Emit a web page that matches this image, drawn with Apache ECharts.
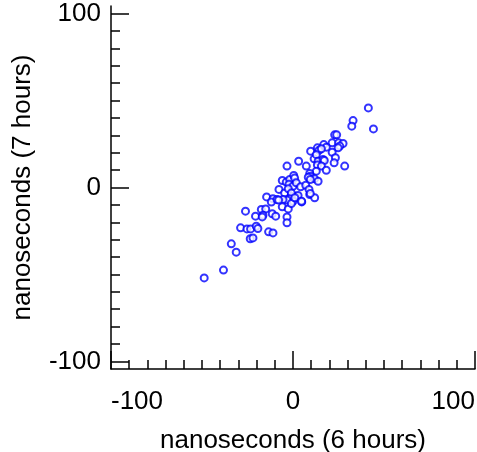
<!DOCTYPE html>
<html>
<head>
<meta charset="utf-8">
<script src="https://cdn.jsdelivr.net/npm/echarts@6/dist/echarts.min.js"></script>
<style>
  html, body { margin: 0; padding: 0; background: #fff; }
  #chart { width: 477px; height: 452px; }
</style>
</head>
<body>
<div id="chart"></div>
<script>
// values (nanoseconds)
var xVals = [
  33.0, 32.3, 22.9, 24.0, 21.5, 25.1, 27.5, 25.7, 24.8, 21.5, 23.3, 22.6, 28.4,
  9.7, 13.4, 14.3, 16.9, 18.3, 15.6, 11.6, 12.8, 13.8, 16.5, 17.2, 13.4, 15.6,
  18.3, 12.8, 3.1, 7.3, -3.3, 9.2, 9.5, 8.4, 11.9, 13.8, 9.5, -5.9, -3.7, -1.8,
  0.4, 0.9, -2.2, 0.0, 1.8, 4.2, 7.0, -7.7, -4.6, -2.6, -0.9, 1.5, 2.8, 4.8,
  9.2, 8.8, 11.9, 9.5, -0.9, -1.8, 0.0, -3.3, -5.5, -5.9, -2.6, -14.5, -11.0,
  -11.9, -8.8, -7.9, -0.9, -26.1, -17.4, -15.0, -20.6, -16.5, -16.9, -11.4,
  -9.5, -3.3, -3.3, -28.8, -25.3, -23.3, -20.2, -19.3, -13.4, -11.0, -23.5,
  -22.0, -33.9, -31.2, -38.2, -48.8, 41.4, 44.2, 1.0, 4.7
];
var yVals = [
  38.5, 35.3, 30.3, 30.3, 25.7, 25.7, 25.3, 23.8, 22.8, 20.3, 17.1, 14.2, 12.3,
  20.9, 22.8, 21.4, 24.7, 23.2, 22.3, 16.5, 18.9, 15.1, 16.1, 15.5, 13.0, 12.3,
  9.9, 9.4, 15.1, 12.3, 12.3, 8.1, 6.5, 5.9, 5.0, 3.6, 4.6, 4.0, 3.1, 4.6,
  6.9, 5.4, 1.8, 0.7, 2.7, 0.4, 1.3, -1.1, -3.1, -0.7, -5.0, -5.0, -4.6, -8.3,
  -4.0, -1.1, -5.9, -3.4, -3.1, -6.5, -7.9, -7.2, -6.9, -11.1, -12.3, -5.4, -6.5,
  -8.4, -6.9, -7.2, -9.2, -13.6, -12.6, -12.3, -16.5, -15.9, -16.9, -15.1,
  -16.5, -16.9, -20.3, -23.2, -23.8, -23.8, -22.3, -23.6, -25.5, -26.1, -29.5,
  -29.0, -32.4, -37.2, -47.5, -52.0, 45.8, 33.7, -5.9, -7.9
];
var majorTicks = [-100, 0, 100];
var minorStep = 10;
var yRange = [-104.4, 104.4];

var points = [];
for (var i = 0; i < xVals.length; i++) {
  points.push([xVals[i], yVals[i]]);
}
var minorTicks = [];
for (var v = majorTicks[0]; v <= majorTicks[majorTicks.length - 1]; v += minorStep) {
  minorTicks.push(v);
}

var font = "Liberation Sans, Arial, sans-serif";
var black = "#000";
var lineW = 1.5;

var myChart = echarts.init(document.getElementById("chart"));
var option = {
  animation: false,
  backgroundColor: "#fff",
  grid: { left: 111, right: 2, top: 6, bottom: 83, containLabel: false, outerBoundsMode: "none" },
  xAxis: {
    type: "value",
    name: "nanoseconds (6 hours)",
    nameLocation: "middle",
    nameGap: 59,
    nameTextStyle: { color: black, fontSize: 26, fontFamily: font },
    min: majorTicks[0],
    max: majorTicks[2],
    interval: majorTicks[1] - majorTicks[0],
    axisLine: { onZero: false, lineStyle: { color: black, width: lineW } },
    axisTick: { inside: true, length: 18, lineStyle: { color: black, width: lineW } },
    minorTick: { show: true, splitNumber: 10, length: 9, lineStyle: { color: black, width: lineW } },
    splitLine: { show: false },
    axisLabel: {
      color: black, fontSize: 26, fontFamily: font, margin: 20,
      alignMinLabel: "left", alignMaxLabel: "right"
    }
  },
  yAxis: [
    {
      // main axis: line, long ticks, labels, name
      type: "value",
      position: "left",
      name: "nanoseconds (7 hours)",
      nameLocation: "middle",
      nameGap: 75,
      nameTextStyle: { color: black, fontSize: 26, fontFamily: font },
      min: yRange[0],
      max: yRange[1],
      axisLine: { onZero: false, lineStyle: { color: black, width: lineW } },
      axisTick: { inside: true, length: 18, customValues: majorTicks, lineStyle: { color: black, width: lineW } },
      splitLine: { show: false },
      axisLabel: { color: black, fontSize: 26, fontFamily: font, margin: 10, customValues: majorTicks }
    },
    {
      // short ticks every 10
      type: "value",
      position: "left",
      offset: 0,
      min: yRange[0],
      max: yRange[1],
      axisLine: { show: false, onZero: false },
      axisTick: { inside: true, length: 9, customValues: minorTicks, lineStyle: { color: black, width: lineW } },
      splitLine: { show: false },
      axisLabel: { show: false }
    }
  ],
  series: [
    {
      type: "scatter",
      yAxisIndex: 0,
      data: points,
      symbol: "emptyCircle",
      symbolSize: 7,
      itemStyle: { color: "#0000ff", borderColor: "#0000ff", borderWidth: 1 }
    }
  ]
};
myChart.setOption(option);
</script>
</body>
</html>
